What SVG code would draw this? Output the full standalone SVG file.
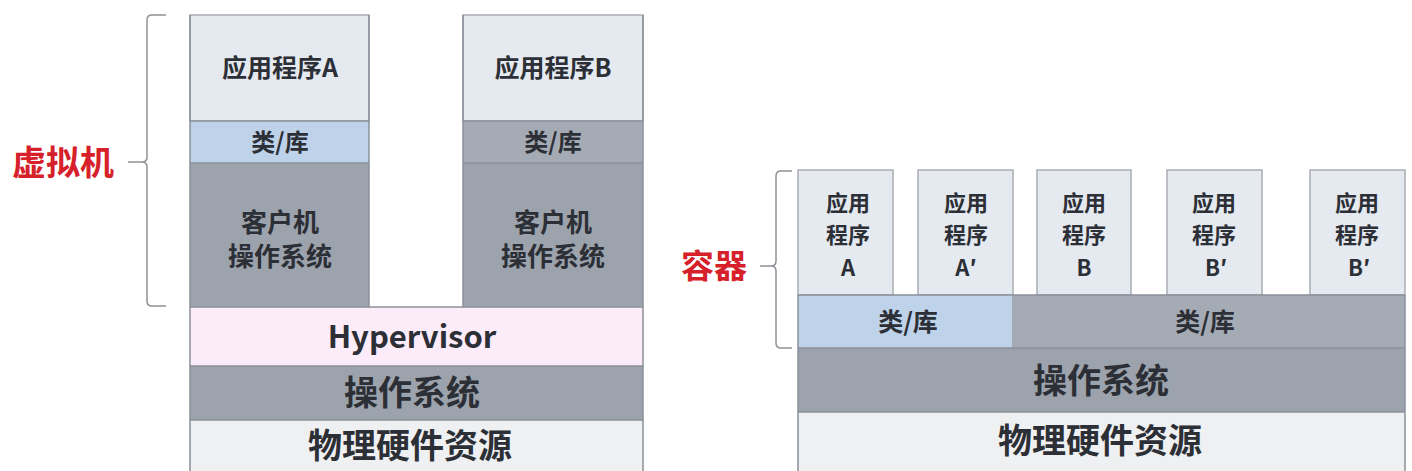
<svg xmlns="http://www.w3.org/2000/svg" width="1412" height="471" viewBox="0 0 1412 471">
<style>
text{font-family:"Noto Sans CJK SC","Liberation Sans",sans-serif;fill:#2c2f35;text-anchor:middle;font-weight:bold}
.app{fill:#e5e9f0;stroke:#a9adb3;stroke-width:1.5}
.lib{fill:#bed2ea}
.gray{fill:#9ca3ad}
.gray2{fill:#a4abb4}
.hyp{fill:#fcebf9}
.phys{fill:#eff0f2}
.sep{stroke:#8a9099;stroke-width:1.5;fill:none}
.brace{stroke:#8e9196;stroke-width:1.5;fill:none}
.red{fill:#d6202a}
.big{font-size:34px}
.ca{font-size:22px}
</style>
<rect width="1412" height="471" fill="#ffffff"/>
<g id="vm-label"><text class="red" x="63" y="175" font-size="34">虚拟机</text></g>
<g id="container-label"><text class="red" x="714" y="278" font-size="33">容器</text></g>
<g id="connectors">
<path class="brace" d="M166,15 L152,15 Q147,15 147,20 L147,157 Q147,162 142,162 L128,162 M142,162 Q147,162 147,167 L147,301 Q147,306 152,306 L166,306"/>
<path class="brace" d="M792,171 L781,171 Q776,171 776,176 L776,261 Q776,266 771,266 L760,266 M771,266 Q776,266 776,271 L776,343 Q776,348 781,348 L792,348"/>
</g>
<g id="vm-app-a"><rect class="app" x="190" y="15" width="179" height="106"/><text x="280" y="77" font-size="25">应用程序A</text></g>
<g id="vm-lib-a"><rect class="lib" x="190" y="121" width="179" height="42"/><text x="280" y="151" font-size="24">类/库</text></g>
<g id="vm-guest-a"><rect class="gray" x="190" y="163" width="179" height="144"/><text x="280" y="232" font-size="26">客户机</text><text x="280" y="266" font-size="26">操作系统</text></g>
<g id="vm-app-b"><rect class="app" x="463" y="15" width="180" height="106"/><text x="553" y="77" font-size="25">应用程序B</text></g>
<g id="vm-lib-b"><rect class="gray2" x="463" y="121" width="180" height="42"/><text x="553" y="151" font-size="24">类/库</text></g>
<g id="vm-guest-b"><rect class="gray" x="463" y="163" width="180" height="144"/><text x="553" y="232" font-size="26">客户机</text><text x="553" y="266" font-size="26">操作系统</text></g>
<g id="hypervisor"><rect class="hyp" x="190" y="307" width="453" height="59"/><text x="412" y="348" font-size="31" font-family="Open Sans, Liberation Sans, sans-serif">Hypervisor</text></g>
<g id="vm-os"><rect class="gray" x="190" y="366" width="453" height="54"/><text class="big" x="412" y="405">操作系统</text></g>
<g id="vm-hw"><rect class="phys" x="190" y="420" width="453" height="51"/><text class="big" x="410" y="458">物理硬件资源</text></g>
<path class="sep" d="M190,121 H369 M190,163 H369 M463,121 H643 M463,163 H643 M190,307 H643 M190,366 H643 M190,420 H643 M190,15 V471 M643,15 V471 M369,15 V307 M463,15 V307"/>

<g id="ct-app-1"><rect class="app" x="798" y="170" width="95" height="125"/><text class="ca" x="848" y="211">应用</text><text class="ca" x="848" y="243">程序</text><text class="ca" x="848" y="276">A</text></g>
<g id="ct-app-2"><rect class="app" x="918" y="170" width="95" height="125"/><text class="ca" x="966" y="211">应用</text><text class="ca" x="966" y="243">程序</text><text class="ca" x="966" y="276">A′</text></g>
<g id="ct-app-3"><rect class="app" x="1037" y="170" width="94" height="125"/><text class="ca" x="1084" y="211">应用</text><text class="ca" x="1084" y="243">程序</text><text class="ca" x="1084" y="276">B</text></g>
<g id="ct-app-4"><rect class="app" x="1167" y="170" width="95" height="125"/><text class="ca" x="1214" y="211">应用</text><text class="ca" x="1214" y="243">程序</text><text class="ca" x="1216" y="276">B′</text></g>
<g id="ct-app-5"><rect class="app" x="1310" y="170" width="95" height="125"/><text class="ca" x="1357" y="211">应用</text><text class="ca" x="1357" y="243">程序</text><text class="ca" x="1359" y="276">B′</text></g>
<g id="ct-lib-a"><rect class="lib" x="798" y="295" width="214" height="53"/><text x="908" y="331" font-size="25">类/库</text></g>
<g id="ct-lib-b"><rect class="gray2" x="1012" y="295" width="393" height="53"/><text x="1205" y="331" font-size="25">类/库</text></g>
<g id="ct-os"><rect class="gray" x="798" y="348" width="607" height="64"/><text class="big" x="1101" y="393">操作系统</text></g>
<g id="ct-hw"><rect class="phys" x="798" y="412" width="607" height="59"/><text class="big" x="1100" y="453">物理硬件资源</text></g>
<path class="sep" d="M798,295 H1405 M798,348 H1405 M798,412 H1405 M798,295 V471 M1405,295 V471"/>
</svg>
